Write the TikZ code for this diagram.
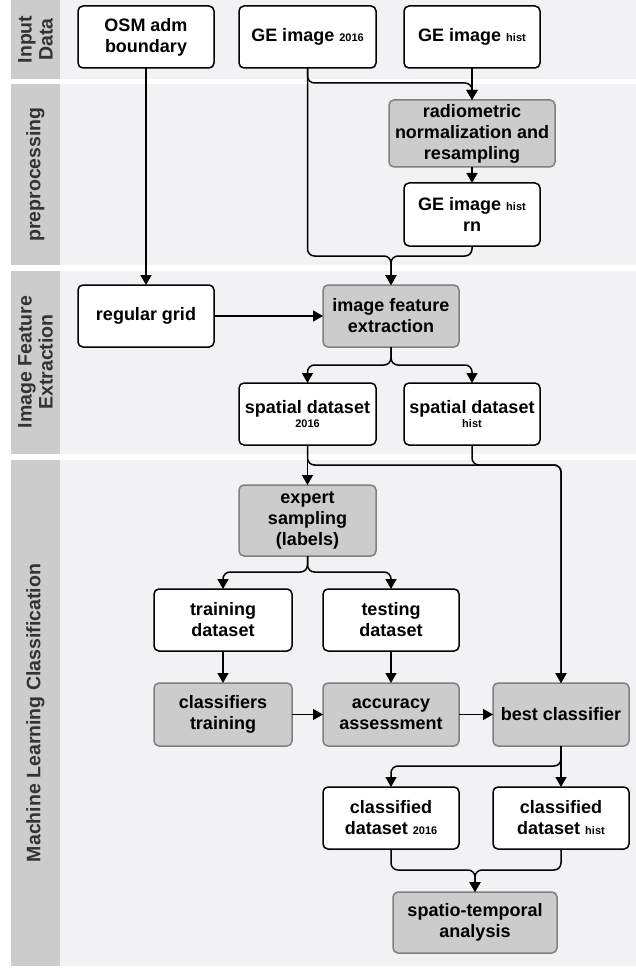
\documentclass[tikz,border=0pt]{standalone}
\usepackage{fontspec}
\setmainfont{Liberation Sans}
\usetikzlibrary{arrows.meta}
\definecolor{lanebg}{HTML}{F2F2F4}
\definecolor{strip}{HTML}{CCCCCC}
\definecolor{procfill}{HTML}{CCCCCC}
\definecolor{procdraw}{HTML}{808080}
\definecolor{lbltext}{HTML}{333333}
\newcommand{\sml}[1]{{\fontsize{11}{13}\selectfont #1}}
\tikzset{
  base/.style={rectangle, rounded corners=5pt, inner sep=0pt, outer sep=0pt, align=center,
     font=\fontsize{18}{21}\selectfont\bfseries, line width=1.5pt},
  databox/.style={base, draw=black, fill=white},
  procbox/.style={base, draw=procdraw, fill=procfill},
  arr/.style={line width=1.5pt, rounded corners=7pt, -{Triangle[length=10pt,width=11pt]}},
  lane/.style={fill=lanebg, draw=none},
  lanestrip/.style={fill=strip, draw=none},
  lanelbl/.style={rotate=90, align=center, text=lbltext, font=\fontsize{19.5}{21}\selectfont\bfseries}
}
\begin{document}
\begin{tikzpicture}[x=1pt,y=-1pt]
\useasboundingbox (0,0) rectangle (636,968);
% lanes
\fill[lane] (11,0) rectangle (636,79);
\fill[lanestrip] (11,0) rectangle (60,79);
\fill[lane] (11,84) rectangle (636,265);
\fill[lanestrip] (11,84) rectangle (60,265);
\fill[lane] (11,271) rectangle (636,454);
\fill[lanestrip] (11,271) rectangle (60,454);
\fill[lane] (11,460) rectangle (636,966);
\fill[lanestrip] (11,460) rectangle (60,966);
\node[lanelbl] (l1) at (35.5,39.5) {Input\\Data};
\node[lanelbl] (l2) at (35.5,174.5) {preprocessing};
\node[lanelbl] (l3) at (35.5,362) {Image Feature\\Extraction};
\node[lanelbl] (l4) at (35.5,713) {Machine Learning Classification};
% nodes
\node[databox, minimum width=136pt, minimum height=62pt] (osm) at (146,37) {OSM adm\\boundary};
\node[databox, minimum width=137pt, minimum height=62pt] (ge16) at (307.5,37) {GE image \sml{2016}};
\node[databox, minimum width=136pt, minimum height=62pt] (gehist) at (472,37) {GE image \sml{hist}};
\node[procbox, minimum width=166pt, minimum height=67pt] (radio) at (472,133.5) {radiometric\\normalization and\\resampling};
\node[databox, minimum width=136pt, minimum height=63pt] (gern) at (472,214.5) {GE image \sml{hist}\\rn};
\node[databox, minimum width=136pt, minimum height=62pt] (grid) at (146,316) {regular grid};
\node[procbox, minimum width=136pt, minimum height=62pt] (ife) at (391,316) {image feature\\extraction};
\node[databox, minimum width=137pt, minimum height=62pt] (sd16) at (307.5,414) {spatial dataset\\[-7pt]\sml{2016}};
\node[databox, minimum width=136pt, minimum height=62pt] (sdhist) at (472,414) {spatial dataset\\[-7pt]\sml{hist}};
\node[procbox, minimum width=137pt, minimum height=71pt] (expert) at (307.5,520.5) {expert\\sampling\\(labels)};
\node[databox, minimum width=138pt, minimum height=62pt] (train) at (223,620) {training\\dataset};
\node[databox, minimum width=136pt, minimum height=62pt] (test) at (391,620) {testing\\dataset};
\node[procbox, minimum width=138pt, minimum height=63pt] (ctrain) at (223,714.5) {classifiers\\training};
\node[procbox, minimum width=136pt, minimum height=63pt] (acc) at (391,714.5) {accuracy\\assessment};
\node[procbox, minimum width=136pt, minimum height=63pt] (best) at (561,714.5) {best classifier};
\node[databox, minimum width=136pt, minimum height=62pt] (cd16) at (391,818) {classified\\dataset \sml{2016}};
\node[databox, minimum width=136pt, minimum height=62pt] (cdhist) at (561,818) {classified\\dataset \sml{hist}};
\node[procbox, minimum width=164pt, minimum height=61pt] (sta) at (475,922.5) {spatio-temporal\\analysis};
% junction coordinates
\coordinate (j0) at (472,83);
\coordinate (j1) at (391,256);
\coordinate (j2) at (391,365);
\coordinate (j3) at (561,465);
\coordinate (j4) at (307.5,572);
\coordinate (j5) at (561,766);
\coordinate (j6) at (475,870);
% connectors
\draw[arr] (ge16.south) |- (j0) -- (radio.north);
\draw[arr] (gehist.south) -- (radio.north);
\draw[arr] (radio.south) -- (gern.north);
\draw[arr] (ge16.south) |- (j1) -- (ife.north);
\draw[arr] (gern.south) |- (j1) -- (ife.north);
\draw[arr] (osm.south) -- (grid.north);
\draw[arr] (grid.east) -- (ife.west);
\draw[arr] (ife.south) -- (j2) -| (sd16.north);
\draw[arr] (ife.south) -- (j2) -| (sdhist.north);
\draw[arr] (sd16.south) -- (expert.north);
\draw[arr] (sd16.south) |- (j3) -- (best.north);
\draw[arr] (sdhist.south) |- (j3) -- (best.north);
\draw[arr] (expert.south) -- (j4) -| (train.north);
\draw[arr] (expert.south) -- (j4) -| (test.north);
\draw[arr] (train.south) -- (ctrain.north);
\draw[arr] (test.south) -- (acc.north);
\draw[arr] (ctrain.east) -- (acc.west);
\draw[arr] (acc.east) -- (best.west);
\draw[arr] (best.south) -- (cdhist.north);
\draw[arr] (best.south) -- (j5) -| (cd16.north);
\draw[arr] (cd16.south) |- (j6) -- (sta.north);
\draw[arr] (cdhist.south) |- (j6) -- (sta.north);
\end{tikzpicture}
\end{document}
